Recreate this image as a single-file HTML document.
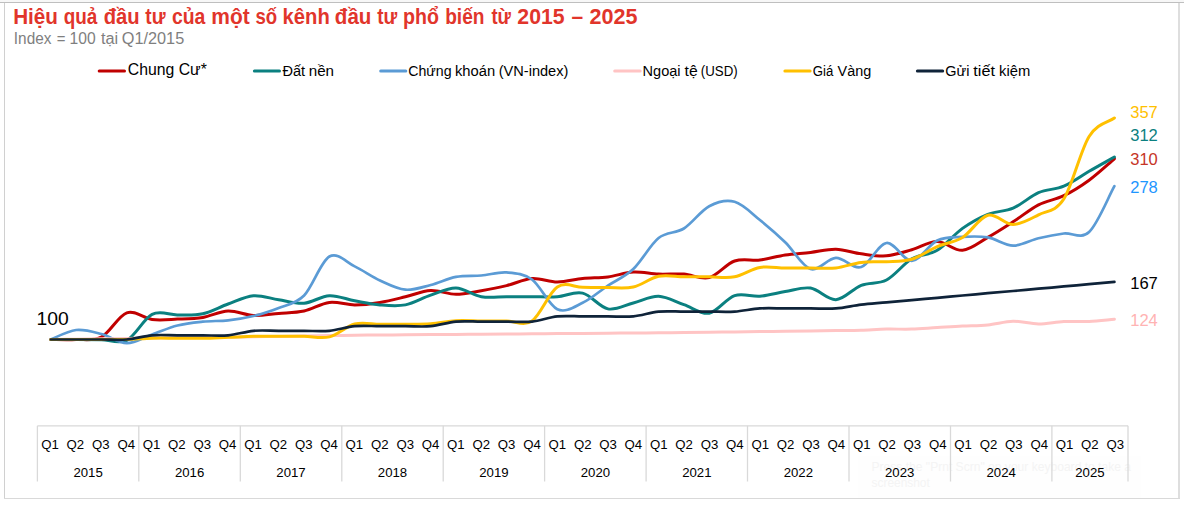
<!DOCTYPE html>
<html><head><meta charset="utf-8"><title>Chart</title>
<style>
html,body{margin:0;padding:0;background:#fff;}
body{width:1184px;height:505px;overflow:hidden;position:relative;font-family:"Liberation Sans",sans-serif;}
.topband{position:absolute;left:0;top:0;width:1184px;height:2px;background:#F7F7F7;}
.btop{position:absolute;left:0;top:2px;width:1184px;height:1px;background:#BFBFBF;}
.bleft{position:absolute;left:4px;top:3px;width:1px;height:495px;background:#D0D0D0;}
.bright{position:absolute;left:1178px;top:3px;width:2px;height:496px;background:#DEDEDE;}
.bbot{position:absolute;left:4px;top:498px;width:1176px;height:1px;background:#D9D9D9;}
svg{position:absolute;left:0;top:0;font-family:"Liberation Sans",sans-serif;}
</style></head><body>
<div class="topband"></div><div class="btop"></div><div class="bleft"></div><div class="bright"></div><div class="bbot"></div>
<svg width="1184" height="505" viewBox="0 0 1184 505">
<rect x="858" y="456" width="283" height="42" fill="#FEFEFE"/>
<g font-size="13" fill="#F4F4F4"><text x="871.5" y="471.3" textLength="259.5" lengthAdjust="spacingAndGlyphs">Press the "Prnt Scrn" on your keyboard to take a</text><text x="871.5" y="487" textLength="58.3" lengthAdjust="spacingAndGlyphs">screenshot</text></g>
<g stroke="#D9D9D9" stroke-width="1.3" fill="none">
<path d="M37.4,425.8 H1128.0"/>
<path d="M37.4,425.8 V481.5"/>
<path d="M138.8,425.8 V481.5"/>
<path d="M240.3,425.8 V481.5"/>
<path d="M341.8,425.8 V481.5"/>
<path d="M443.2,425.8 V481.5"/>
<path d="M544.6,425.8 V481.5"/>
<path d="M646.1,425.8 V481.5"/>
<path d="M747.5,425.8 V481.5"/>
<path d="M849.0,425.8 V481.5"/>
<path d="M950.5,425.8 V481.5"/>
<path d="M1051.9,425.8 V481.5"/>
<path d="M1128.0,425.8 V481.5"/>
</g>
<g font-size="13.2" fill="#000" text-anchor="middle">
<text x="50.1" y="448.8">Q1</text>
<text x="75.4" y="448.8">Q2</text>
<text x="100.8" y="448.8">Q3</text>
<text x="126.2" y="448.8">Q4</text>
<text x="151.5" y="448.8">Q1</text>
<text x="176.9" y="448.8">Q2</text>
<text x="202.3" y="448.8">Q3</text>
<text x="227.6" y="448.8">Q4</text>
<text x="253.0" y="448.8">Q1</text>
<text x="278.3" y="448.8">Q2</text>
<text x="303.7" y="448.8">Q3</text>
<text x="329.1" y="448.8">Q4</text>
<text x="354.4" y="448.8">Q1</text>
<text x="379.8" y="448.8">Q2</text>
<text x="405.2" y="448.8">Q3</text>
<text x="430.5" y="448.8">Q4</text>
<text x="455.9" y="448.8">Q1</text>
<text x="481.2" y="448.8">Q2</text>
<text x="506.6" y="448.8">Q3</text>
<text x="532.0" y="448.8">Q4</text>
<text x="557.3" y="448.8">Q1</text>
<text x="582.7" y="448.8">Q2</text>
<text x="608.1" y="448.8">Q3</text>
<text x="633.4" y="448.8">Q4</text>
<text x="658.8" y="448.8">Q1</text>
<text x="684.1" y="448.8">Q2</text>
<text x="709.5" y="448.8">Q3</text>
<text x="734.9" y="448.8">Q4</text>
<text x="760.2" y="448.8">Q1</text>
<text x="785.6" y="448.8">Q2</text>
<text x="811.0" y="448.8">Q3</text>
<text x="836.3" y="448.8">Q4</text>
<text x="861.7" y="448.8">Q1</text>
<text x="887.0" y="448.8">Q2</text>
<text x="912.4" y="448.8">Q3</text>
<text x="937.8" y="448.8">Q4</text>
<text x="963.1" y="448.8">Q1</text>
<text x="988.5" y="448.8">Q2</text>
<text x="1013.9" y="448.8">Q3</text>
<text x="1039.2" y="448.8">Q4</text>
<text x="1064.6" y="448.8">Q1</text>
<text x="1089.9" y="448.8">Q2</text>
<text x="1115.3" y="448.8">Q3</text>
<text x="88.1" y="476.6">2015</text>
<text x="189.6" y="476.6">2016</text>
<text x="291.0" y="476.6">2017</text>
<text x="392.5" y="476.6">2018</text>
<text x="493.9" y="476.6">2019</text>
<text x="595.4" y="476.6">2020</text>
<text x="696.8" y="476.6">2021</text>
<text x="798.3" y="476.6">2022</text>
<text x="899.7" y="476.6">2023</text>
<text x="1001.2" y="476.6">2024</text>
<text x="1089.9" y="476.6">2025</text>
</g>
<path d="M50.8,339.5 C55.0,339.5 67.7,339.9 76.1,339.5 C84.6,339.1 93.0,341.4 101.4,337.0 C109.9,332.6 118.3,315.7 126.8,312.8 C135.2,309.9 143.7,318.4 152.1,319.5 C160.5,320.6 169.0,319.5 177.4,319.1 C185.9,318.8 194.3,318.8 202.8,317.4 C211.2,316.0 219.6,311.3 228.1,311.0 C236.5,310.7 245.0,315.0 253.4,315.4 C261.8,315.8 270.3,314.1 278.7,313.4 C287.2,312.7 295.6,312.8 304.1,311.0 C312.5,309.2 320.9,303.4 329.4,302.4 C337.8,301.4 346.3,304.9 354.7,304.9 C363.1,304.9 371.6,303.8 380.0,302.4 C388.5,301.0 396.9,298.8 405.4,296.8 C413.8,294.8 422.2,290.9 430.7,290.5 C439.1,290.1 447.6,294.3 456.0,294.3 C464.4,294.3 472.9,292.1 481.3,290.7 C489.8,289.2 498.2,287.6 506.6,285.6 C515.1,283.6 523.5,279.1 532.0,278.5 C540.4,277.9 548.9,282.0 557.3,282.0 C565.7,282.0 574.2,279.4 582.6,278.5 C591.1,277.6 599.5,278.0 607.9,276.9 C616.4,275.8 624.8,272.5 633.3,272.0 C641.7,271.5 650.2,273.8 658.6,274.1 C667.0,274.5 675.5,273.5 683.9,274.1 C692.4,274.7 700.8,279.8 709.2,277.6 C717.7,275.4 726.1,263.9 734.6,261.0 C743.0,258.1 751.5,261.0 759.9,260.0 C768.3,259.0 776.8,256.2 785.2,254.9 C793.7,253.6 802.1,253.4 810.5,252.4 C819.0,251.4 827.4,249.0 835.9,249.2 C844.3,249.4 852.8,252.7 861.2,253.8 C869.6,254.9 878.1,256.5 886.5,255.8 C895.0,255.1 903.4,252.1 911.8,249.7 C920.3,247.3 928.7,241.5 937.2,241.6 C945.6,241.7 954.1,251.0 962.5,250.3 C970.9,249.6 979.4,242.2 987.8,237.4 C996.3,232.7 1004.7,227.2 1013.1,221.8 C1021.6,216.4 1030.0,209.2 1038.5,204.8 C1046.9,200.5 1055.4,199.8 1063.8,195.7 C1072.2,191.6 1080.7,186.3 1089.1,180.2 C1097.6,174.0 1107.7,164.5 1114.4,158.8" fill="none" stroke="#C00000" stroke-width="3.0" stroke-linecap="round" stroke-linejoin="round"/>
<path d="M50.8,339.5 C55.0,339.5 67.7,339.5 76.1,339.5 C84.6,339.5 93.0,339.6 101.4,339.7 C109.9,339.8 118.3,344.5 126.8,340.3 C135.2,336.1 143.7,318.6 152.1,314.4 C160.5,310.2 169.0,315.0 177.4,314.9 C185.9,314.8 194.3,315.5 202.8,313.7 C211.2,311.9 219.6,307.0 228.1,304.0 C236.5,301.0 245.0,296.4 253.4,295.7 C261.8,295.0 270.3,298.6 278.7,299.8 C287.2,301.1 295.6,303.9 304.1,303.2 C312.5,302.5 320.9,296.1 329.4,295.7 C337.8,295.3 346.3,299.3 354.7,300.8 C363.1,302.3 371.6,304.2 380.0,304.9 C388.5,305.6 396.9,306.5 405.4,304.9 C413.8,303.3 422.2,298.0 430.7,295.2 C439.1,292.4 447.6,287.8 456.0,288.0 C464.4,288.2 472.9,295.2 481.3,296.7 C489.8,298.1 498.2,296.7 506.6,296.7 C515.1,296.7 523.5,296.7 532.0,296.7 C540.4,296.7 548.9,297.3 557.3,296.7 C565.7,296.1 574.2,291.1 582.6,293.1 C591.1,295.1 599.5,307.2 607.9,308.9 C616.4,310.5 624.8,305.1 633.3,303.0 C641.7,300.9 650.2,296.0 658.6,296.3 C667.0,296.6 675.5,301.9 683.9,304.7 C692.4,307.5 700.8,314.7 709.2,313.2 C717.7,311.7 726.1,298.4 734.6,295.6 C743.0,292.8 751.5,296.9 759.9,296.2 C768.3,295.5 776.8,293.0 785.2,291.6 C793.7,290.2 802.1,286.8 810.5,288.1 C819.0,289.5 827.4,300.2 835.9,299.7 C844.3,299.2 852.8,288.6 861.2,285.3 C869.6,282.0 878.1,284.4 886.5,280.0 C895.0,275.6 903.4,263.8 911.8,258.8 C920.3,253.9 928.7,255.4 937.2,250.3 C945.6,245.2 954.1,234.4 962.5,228.4 C970.9,222.4 979.4,217.7 987.8,214.3 C996.3,210.9 1004.7,211.8 1013.1,208.2 C1021.6,204.6 1030.0,196.4 1038.5,192.7 C1046.9,189.0 1055.4,189.8 1063.8,186.2 C1072.2,182.6 1080.7,176.2 1089.1,171.3 C1097.6,166.4 1107.7,160.8 1114.4,157.0" fill="none" stroke="#0B8080" stroke-width="3.0" stroke-linecap="round" stroke-linejoin="round"/>
<path d="M50.8,339.5 C55.0,337.9 67.7,330.9 76.1,330.0 C84.6,329.1 93.0,331.8 101.4,334.0 C109.9,336.2 118.3,343.1 126.8,343.2 C135.2,343.3 143.7,337.4 152.1,334.5 C160.5,331.6 169.0,327.6 177.4,325.5 C185.9,323.4 194.3,322.6 202.8,321.7 C211.2,320.8 219.6,321.2 228.1,320.3 C236.5,319.4 245.0,318.1 253.4,316.0 C261.8,313.9 270.3,311.4 278.7,308.0 C287.2,304.6 295.6,304.1 304.1,295.5 C312.5,286.9 320.9,261.4 329.4,256.5 C337.8,251.7 346.3,262.4 354.7,266.4 C363.1,270.4 371.6,276.6 380.0,280.5 C388.5,284.4 396.9,288.9 405.4,289.7 C413.8,290.4 422.2,287.1 430.7,285.0 C439.1,282.9 447.6,278.5 456.0,276.9 C464.4,275.3 472.9,276.2 481.3,275.5 C489.8,274.8 498.2,271.7 506.6,272.4 C515.1,273.1 523.5,273.4 532.0,279.5 C540.4,285.6 548.9,305.4 557.3,309.3 C565.7,313.2 574.2,306.8 582.6,302.8 C591.1,298.9 599.5,291.2 607.9,285.6 C616.4,280.0 624.8,276.9 633.3,269.0 C641.7,261.1 650.2,244.8 658.6,238.0 C667.0,231.2 675.5,233.8 683.9,228.5 C692.4,223.2 700.8,210.6 709.2,206.2 C717.7,201.8 726.1,199.5 734.6,201.8 C743.0,204.1 751.5,213.2 759.9,220.0 C768.3,226.8 776.8,234.1 785.2,242.3 C793.7,250.5 802.1,266.4 810.5,269.0 C819.0,271.6 827.4,258.2 835.9,257.9 C844.3,257.6 852.8,269.5 861.2,267.0 C869.6,264.5 878.1,244.0 886.5,243.0 C895.0,242.0 903.4,261.2 911.8,260.8 C920.3,260.4 928.7,244.5 937.2,240.5 C945.6,236.5 954.1,237.4 962.5,236.9 C970.9,236.4 979.4,236.0 987.8,237.4 C996.3,238.8 1004.7,245.4 1013.1,245.6 C1021.6,245.8 1030.0,240.3 1038.5,238.3 C1046.9,236.3 1055.4,234.6 1063.8,233.5 C1072.2,232.4 1080.7,239.9 1089.1,232.0 C1097.6,224.1 1107.7,198.4 1114.4,186.2" fill="none" stroke="#5B9BD5" stroke-width="2.7" stroke-linecap="round" stroke-linejoin="round"/>
<path d="M50.8,339.5 C55.0,339.4 67.7,339.3 76.1,339.2 C84.6,339.1 93.0,338.9 101.4,338.8 C109.9,338.7 118.3,338.6 126.8,338.5 C135.2,338.4 143.7,338.3 152.1,338.1 C160.5,338.0 169.0,337.9 177.4,337.8 C185.9,337.7 194.3,337.6 202.8,337.5 C211.2,337.4 219.6,337.2 228.1,337.1 C236.5,337.0 245.0,336.9 253.4,336.8 C261.8,336.7 270.3,336.5 278.7,336.4 C287.2,336.3 295.6,336.1 304.1,336.0 C312.5,335.9 320.9,335.7 329.4,335.6 C337.8,335.5 346.3,335.3 354.7,335.2 C363.1,335.1 371.6,335.1 380.0,335.0 C388.5,334.9 396.9,334.9 405.4,334.8 C413.8,334.7 422.2,334.7 430.7,334.6 C439.1,334.5 447.6,334.5 456.0,334.4 C464.4,334.3 472.9,334.3 481.3,334.2 C489.8,334.1 498.2,334.1 506.6,334.0 C515.1,333.9 523.5,333.9 532.0,333.8 C540.4,333.7 548.9,333.7 557.3,333.6 C565.7,333.5 574.2,333.5 582.6,333.4 C591.1,333.3 599.5,333.3 607.9,333.2 C616.4,333.1 624.8,333.1 633.3,333.0 C641.7,332.9 650.2,332.9 658.6,332.8 C667.0,332.7 675.5,332.6 683.9,332.5 C692.4,332.4 700.8,332.3 709.2,332.2 C717.7,332.1 726.1,332.0 734.6,331.9 C743.0,331.8 751.5,331.7 759.9,331.6 C768.3,331.5 776.8,331.4 785.2,331.3 C793.7,331.2 802.1,331.1 810.5,331.0 C819.0,330.8 827.4,330.7 835.9,330.6 C844.3,330.5 852.8,330.6 861.2,330.3 C869.6,330.0 878.1,329.3 886.5,329.1 C895.0,328.9 903.4,329.4 911.8,329.1 C920.3,328.8 928.7,328.0 937.2,327.5 C945.6,327.0 954.1,326.4 962.5,326.0 C970.9,325.6 979.4,325.7 987.8,324.9 C996.3,324.1 1004.7,321.5 1013.1,321.3 C1021.6,321.1 1030.0,323.9 1038.5,323.9 C1046.9,323.9 1055.4,321.9 1063.8,321.5 C1072.2,321.1 1080.7,321.9 1089.1,321.5 C1097.6,321.1 1107.7,319.8 1114.4,319.2" fill="none" stroke="#FFC4C4" stroke-width="3.0" stroke-linecap="round" stroke-linejoin="round"/>
<path d="M50.8,339.5 C55.0,339.5 67.7,339.5 76.1,339.5 C84.6,339.5 93.0,339.5 101.4,339.5 C109.9,339.5 118.3,339.7 126.8,339.5 C135.2,339.3 143.7,338.4 152.1,338.2 C160.5,338.0 169.0,338.2 177.4,338.2 C185.9,338.2 194.3,338.3 202.8,338.2 C211.2,338.1 219.6,337.6 228.1,337.3 C236.5,337.0 245.0,336.5 253.4,336.3 C261.8,336.1 270.3,336.3 278.7,336.3 C287.2,336.3 295.6,336.2 304.1,336.3 C312.5,336.4 320.9,338.9 329.4,336.9 C337.8,334.8 346.3,326.1 354.7,324.0 C363.1,321.9 371.6,324.2 380.0,324.3 C388.5,324.4 396.9,324.4 405.4,324.3 C413.8,324.2 422.2,324.4 430.7,323.8 C439.1,323.2 447.6,321.2 456.0,320.7 C464.4,320.2 472.9,320.9 481.3,321.0 C489.8,321.1 498.2,321.0 506.6,321.0 C515.1,321.0 523.5,326.7 532.0,321.0 C540.4,315.3 548.9,292.6 557.3,287.0 C565.7,281.4 574.2,287.2 582.6,287.3 C591.1,287.4 599.5,287.7 607.9,287.6 C616.4,287.6 624.8,288.9 633.3,287.0 C641.7,285.1 650.2,278.0 658.6,276.3 C667.0,274.6 675.5,276.7 683.9,276.8 C692.4,276.9 700.8,276.8 709.2,276.8 C717.7,276.8 726.1,278.4 734.6,276.8 C743.0,275.2 751.5,268.9 759.9,267.4 C768.3,265.9 776.8,267.9 785.2,268.0 C793.7,268.1 802.1,268.0 810.5,268.0 C819.0,268.0 827.4,268.9 835.9,268.0 C844.3,267.1 852.8,263.4 861.2,262.4 C869.6,261.3 878.1,262.2 886.5,261.7 C895.0,261.2 903.4,261.7 911.8,259.2 C920.3,256.7 928.7,250.2 937.2,246.6 C945.6,243.0 954.1,242.7 962.5,237.5 C970.9,232.3 979.4,217.4 987.8,215.2 C996.3,213.0 1004.7,224.6 1013.1,224.5 C1021.6,224.4 1030.0,219.1 1038.5,214.8 C1046.9,210.6 1055.4,212.1 1063.8,199.0 C1072.2,185.9 1080.7,150.0 1089.1,136.5 C1097.6,123.0 1107.7,122.9 1114.4,118.0" fill="none" stroke="#FFC000" stroke-width="3.0" stroke-linecap="round" stroke-linejoin="round"/>
<path d="M50.8,339.5 C55.0,339.5 67.7,339.5 76.1,339.5 C84.6,339.5 93.0,339.5 101.4,339.5 C109.9,339.5 118.3,340.2 126.8,339.5 C135.2,338.8 143.7,336.0 152.1,335.3 C160.5,334.6 169.0,335.3 177.4,335.3 C185.9,335.3 194.3,335.3 202.8,335.3 C211.2,335.3 219.6,336.1 228.1,335.3 C236.5,334.6 245.0,331.6 253.4,330.8 C261.8,330.1 270.3,330.8 278.7,330.8 C287.2,330.8 295.6,330.8 304.1,330.8 C312.5,330.8 320.9,331.6 329.4,330.8 C337.8,330.0 346.3,327.0 354.7,326.2 C363.1,325.4 371.6,326.2 380.0,326.2 C388.5,326.2 396.9,326.2 405.4,326.2 C413.8,326.2 422.2,327.0 430.7,326.2 C439.1,325.4 447.6,322.4 456.0,321.6 C464.4,320.8 472.9,321.6 481.3,321.6 C489.8,321.6 498.2,321.6 506.6,321.6 C515.1,321.6 523.5,322.5 532.0,321.6 C540.4,320.7 548.9,317.3 557.3,316.4 C565.7,315.5 574.2,316.4 582.6,316.4 C591.1,316.4 599.5,316.4 607.9,316.4 C616.4,316.4 624.8,317.2 633.3,316.4 C641.7,315.6 650.2,312.4 658.6,311.6 C667.0,310.8 675.5,311.6 683.9,311.6 C692.4,311.6 700.8,311.6 709.2,311.6 C717.7,311.6 726.1,312.1 734.6,311.6 C743.0,311.1 751.5,308.9 759.9,308.4 C768.3,307.9 776.8,308.4 785.2,308.4 C793.7,308.4 802.1,308.4 810.5,308.4 C819.0,308.4 827.4,309.0 835.9,308.4 C844.3,307.8 852.8,305.6 861.2,304.6 C869.6,303.6 878.1,303.1 886.5,302.3 C895.0,301.6 903.4,300.8 911.8,300.1 C920.3,299.3 928.7,298.5 937.2,297.8 C945.6,297.0 954.1,296.3 962.5,295.5 C970.9,294.8 979.4,294.0 987.8,293.2 C996.3,292.5 1004.7,291.7 1013.1,291.0 C1021.6,290.2 1030.0,289.5 1038.5,288.7 C1046.9,288.0 1055.4,287.2 1063.8,286.4 C1072.2,285.7 1080.7,284.9 1089.1,284.2 C1097.6,283.4 1107.7,282.5 1114.4,281.9" fill="none" stroke="#0F2339" stroke-width="2.7" stroke-linecap="round" stroke-linejoin="round"/>
<path d="M99.2,71.0 H124.5" stroke="#C00000" stroke-width="3" stroke-linecap="round"/>
<text x="127.8" y="74.8" font-size="16" fill="#000" textLength="79.0" lengthAdjust="spacingAndGlyphs">Chung Cư*</text>
<path d="M254.4,71.0 H279.5" stroke="#0B8080" stroke-width="3" stroke-linecap="round"/>
<path d="M380.7,71.0 H405.8" stroke="#5B9BD5" stroke-width="3" stroke-linecap="round"/>
<path d="M614.7,71.0 H640.2" stroke="#FFC4C4" stroke-width="3" stroke-linecap="round"/>
<path d="M784.9,71.0 H810.1" stroke="#FFC000" stroke-width="3" stroke-linecap="round"/>
<path d="M917.4,71.0 H942.7" stroke="#0F2339" stroke-width="3" stroke-linecap="round"/>
<text x="1130.2" y="118.0" font-size="16.2" fill="#FFC000" textLength="27.6" lengthAdjust="spacingAndGlyphs">357</text>
<text x="1130.2" y="141.3" font-size="16.2" fill="#0B8080" textLength="27.6" lengthAdjust="spacingAndGlyphs">312</text>
<text x="1130.2" y="165.1" font-size="16.2" fill="#C63527" textLength="27.6" lengthAdjust="spacingAndGlyphs">310</text>
<text x="1130.2" y="192.8" font-size="16.2" fill="#1E96FF" textLength="27.6" lengthAdjust="spacingAndGlyphs">278</text>
<text x="1130.2" y="289.1" font-size="16.2" fill="#000" textLength="27.6" lengthAdjust="spacingAndGlyphs">167</text>
<text x="1130.2" y="325.9" font-size="16.2" fill="#FFB3B3" textLength="27.6" lengthAdjust="spacingAndGlyphs">124</text>
<text x="36.6" y="325.0" font-size="19" fill="#000" textLength="32.2" lengthAdjust="spacingAndGlyphs">100</text>
<g font-size="21.2" fill="#E1352B" font-weight="bold">
<text x="13.14" y="23.8" textLength="44.75" lengthAdjust="spacingAndGlyphs">Hiệu</text>
<text x="63.63" y="23.8" textLength="33.60" lengthAdjust="spacingAndGlyphs">quả</text>
<text x="103.69" y="23.8" textLength="35.87" lengthAdjust="spacingAndGlyphs">đầu</text>
<text x="145.37" y="23.8" textLength="20.24" lengthAdjust="spacingAndGlyphs">tư</text>
<text x="171.91" y="23.8" textLength="33.37" lengthAdjust="spacingAndGlyphs">của</text>
<text x="211.32" y="23.8" textLength="38.37" lengthAdjust="spacingAndGlyphs">một</text>
<text x="255.44" y="23.8" textLength="21.70" lengthAdjust="spacingAndGlyphs">số</text>
<text x="282.57" y="23.8" textLength="47.18" lengthAdjust="spacingAndGlyphs">kênh</text>
<text x="334.87" y="23.8" textLength="36.50" lengthAdjust="spacingAndGlyphs">đầu</text>
<text x="377.18" y="23.8" textLength="20.04" lengthAdjust="spacingAndGlyphs">tư</text>
<text x="403.11" y="23.8" textLength="35.96" lengthAdjust="spacingAndGlyphs">phổ</text>
<text x="445.17" y="23.8" textLength="39.31" lengthAdjust="spacingAndGlyphs">biến</text>
<text x="491.48" y="23.8" textLength="19.54" lengthAdjust="spacingAndGlyphs">từ</text>
<text x="517.35" y="23.8" textLength="47.19" lengthAdjust="spacingAndGlyphs">2015</text>
<text x="571.41" y="23.8" textLength="11.63" lengthAdjust="spacingAndGlyphs">–</text>
<text x="589.54" y="23.8" textLength="47.91" lengthAdjust="spacingAndGlyphs">2025</text>
</g>
<g font-size="15.8" fill="#7F7F7F">
<text x="13.84" y="44.0" textLength="37.61" lengthAdjust="spacingAndGlyphs">Index</text>
<text x="56.69" y="44.0" textLength="8.70" lengthAdjust="spacingAndGlyphs">=</text>
<text x="69.56" y="44.0" textLength="26.14" lengthAdjust="spacingAndGlyphs">100</text>
<text x="100.94" y="44.0" textLength="17.23" lengthAdjust="spacingAndGlyphs">tại</text>
<text x="121.73" y="44.0" textLength="62.50" lengthAdjust="spacingAndGlyphs">Q1/2015</text>
</g>
<g font-size="14" fill="#000">
<text x="282.40" y="75.9" textLength="22.65" lengthAdjust="spacingAndGlyphs">Đất</text>
<text x="308.72" y="75.9" textLength="25.32" lengthAdjust="spacingAndGlyphs">nền</text>
<text x="408.24" y="75.9" textLength="43.31" lengthAdjust="spacingAndGlyphs">Chứng</text>
<text x="454.95" y="75.9" textLength="40.21" lengthAdjust="spacingAndGlyphs">khoán</text>
<text x="498.72" y="75.9" textLength="69.62" lengthAdjust="spacingAndGlyphs">(VN-index)</text>
<text x="642.56" y="75.9" textLength="38.02" lengthAdjust="spacingAndGlyphs">Ngoại</text>
<text x="684.52" y="75.9" textLength="13.16" lengthAdjust="spacingAndGlyphs">tệ</text>
<text x="700.79" y="75.9" textLength="36.85" lengthAdjust="spacingAndGlyphs">(USD)</text>
<text x="812.69" y="75.9" textLength="20.55" lengthAdjust="spacingAndGlyphs">Giá</text>
<text x="837.54" y="75.9" textLength="33.64" lengthAdjust="spacingAndGlyphs">Vàng</text>
<text x="945.22" y="75.9" textLength="24.18" lengthAdjust="spacingAndGlyphs">Gửi</text>
<text x="973.31" y="75.9" textLength="21.62" lengthAdjust="spacingAndGlyphs">tiết</text>
<text x="999.04" y="75.9" textLength="31.21" lengthAdjust="spacingAndGlyphs">kiệm</text>
</g>
</svg>
</body></html>
